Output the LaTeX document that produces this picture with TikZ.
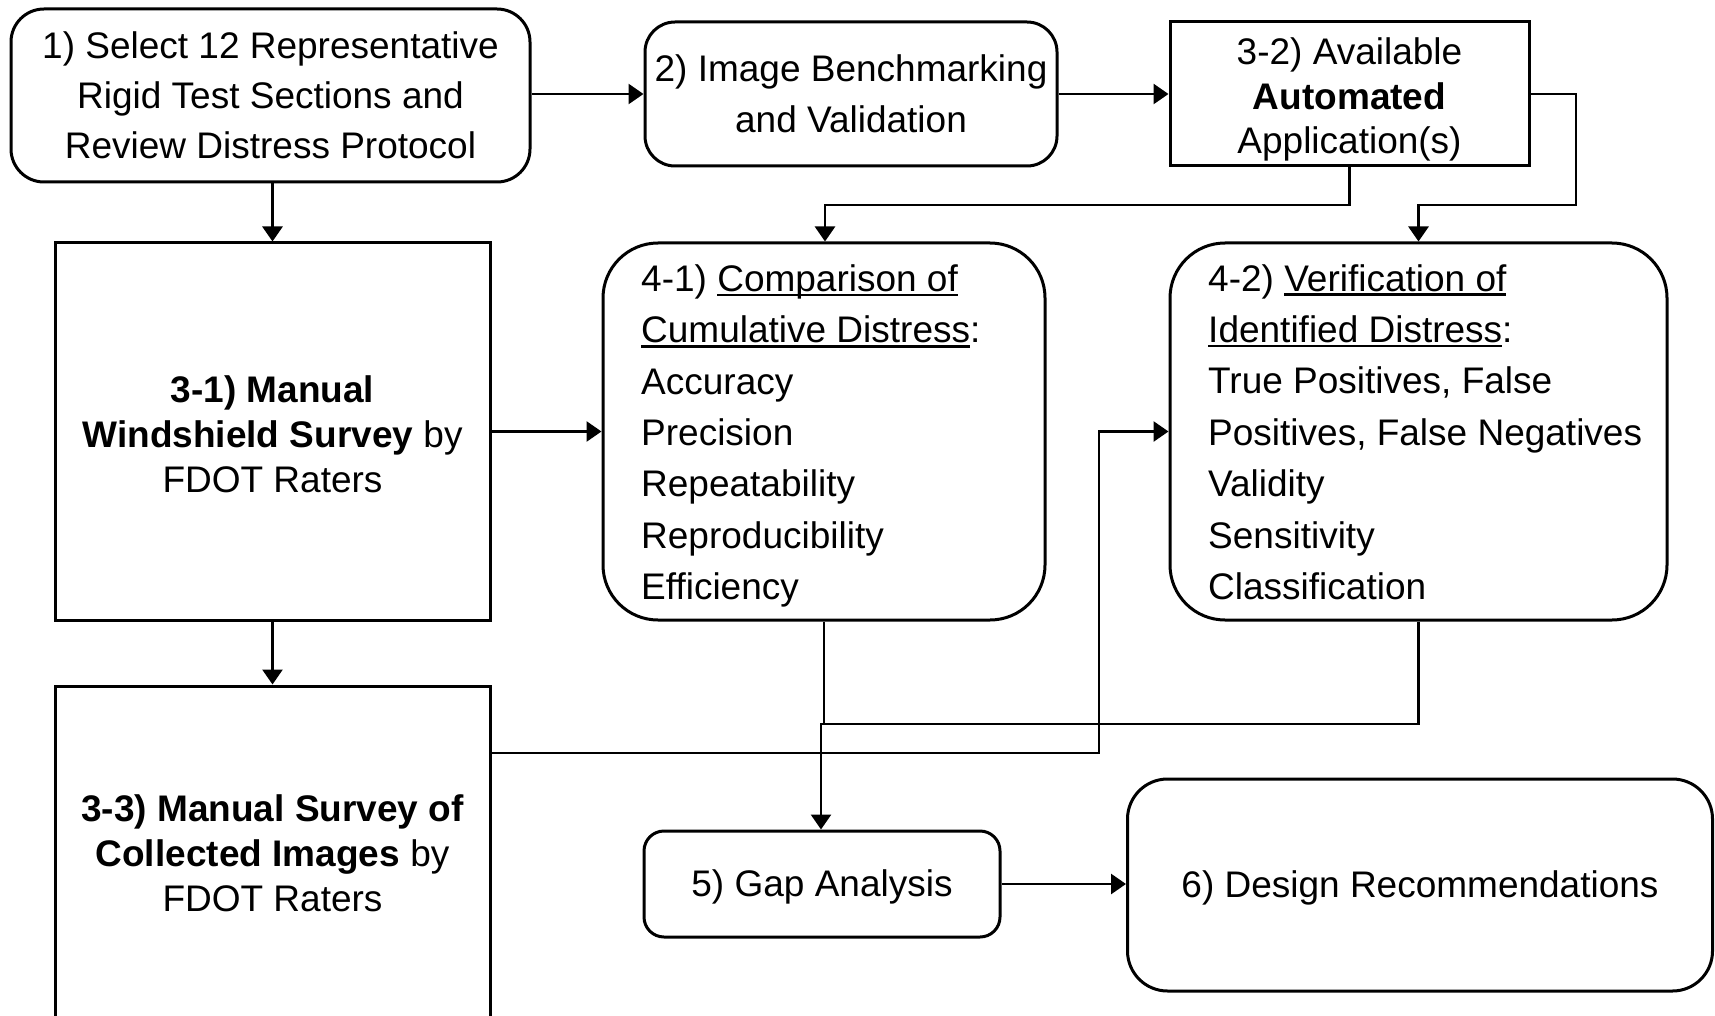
\documentclass[tikz,border=0pt]{standalone}
\usepackage{fontspec}
\setmainfont{Liberation Sans}
\usetikzlibrary{arrows.meta}
\newcommand\myul[1]{\setbox0\hbox{#1}\rlap{\rule[-4.8pt]{\wd0}{2.6pt}}\box0}
\begin{document}
\begin{tikzpicture}[x=1pt,y=-1pt,
  box/.style={draw=black, line width=3pt, fill=white, inner sep=0pt},
  rbox/.style={box, rounded corners=#1},
  arr/.style={line width=2.7pt, -{Triangle[length=15pt,width=20pt]}},
  ln/.style={line width=2.7pt},
  txt/.style={font=\fontsize{37}{#1}\selectfont, align=center, inner sep=0pt},
  ltxt/.style={font=\fontsize{37}{51.4}\selectfont, align=left, inner sep=0pt, anchor=west},
]
\useasboundingbox (0,0) rectangle (1715,1016);

% boxes
\node[rbox=33pt, minimum width=519pt, minimum height=173pt] (b1) at (270.5,95.5) {};
\node[txt=50] (t1) at (b1) {1) Select 12 Representative\\Rigid Test Sections and\\Review Distress Protocol};

\node[rbox=30pt, minimum width=412pt, minimum height=144pt] (b2) at (851,94) {};
\node[txt=51] (t2) at (b2) {2) Image Benchmarking\\and Validation};

\node[box, minimum width=359pt, minimum height=144pt] (b32) at (1349.5,94) {};
\node[txt=44.3] (t32) at (1349.5,99.5) {3-2) Available\\\textbf{Automated}\\Application(s)};

\node[box, minimum width=435pt, minimum height=377pt] (b31) at (272.5,431.5) {};
\node[txt=45] (t31) at (272.5,434.5) {\textbf{3-1) Manual}\\\textbf{Windshield Survey} by\\FDOT Raters};

\node[rbox=55pt, minimum width=442pt, minimum height=377pt] (b41) at (824,431.5) {};
\node[ltxt] (t41) at (641,436) {4-1) \myul{Comparison of}\\\myul{Cumulative Distress}:\\Accuracy\\Precision\\Repeatability\\Reproducibility\\Efficiency};

\node[rbox=55pt, minimum width=497pt, minimum height=377pt] (b42) at (1418.5,431.5) {};
\node[ltxt] (t42) at (1208,432) {4-2) \myul{Verification of}\\\myul{Identified Distress}:\\True Positives, False\\Positives, False Negatives\\Validity\\Sensitivity\\Classification};

\node[box, minimum width=435pt, minimum height=334pt] (b33) at (272.5,853) {};
\node[txt=45] (t33) at (b33) {\textbf{3-3) Manual Survey of}\\\textbf{Collected Images} by\\FDOT Raters};

\node[rbox=20pt, minimum width=356pt, minimum height=106pt] (b5) at (822,884) {};
\node[txt=50] (t5) at (822,887) {5) Gap Analysis};

\node[rbox=40pt, minimum width=585pt, minimum height=212pt] (b6) at (1420,885) {};
\node[txt=50] (t6) at (1420,888) {6) Design Recommendations};

% junction coordinates
\coordinate (j1) at (825,205);
\coordinate (j2) at (1576,205);
\coordinate (j3) at (1099,753);
\coordinate (j4) at (821,724);

% connectors
\draw[arr] (b1.east |- b2.west) -- (b2.west);
\draw[arr] (b2.east) -- (b32.west);
\draw[arr] (b31.north |- b1.south) -- (b31.north);
\draw[arr] (b32.south) |- (j1) -- (j1 |- b41.north);
\draw[arr] (b32.east) -| (j2) -| (b42.north);
\draw[arr] (b31.east) -- (b41.west);
\draw[arr] (b31.south) -- (b33.north);
\draw[arr] (j3 -| b33.east) -- (j3) |- (b42.west);
\draw[ln] (b41.south) -- (b41.south |- j4);
\draw[arr] (b42.south) |- (j4) -- (j4 |- b5.north);
\draw[arr] (b5.east) -- (b6.west |- b5.east);
\end{tikzpicture}
\end{document}
